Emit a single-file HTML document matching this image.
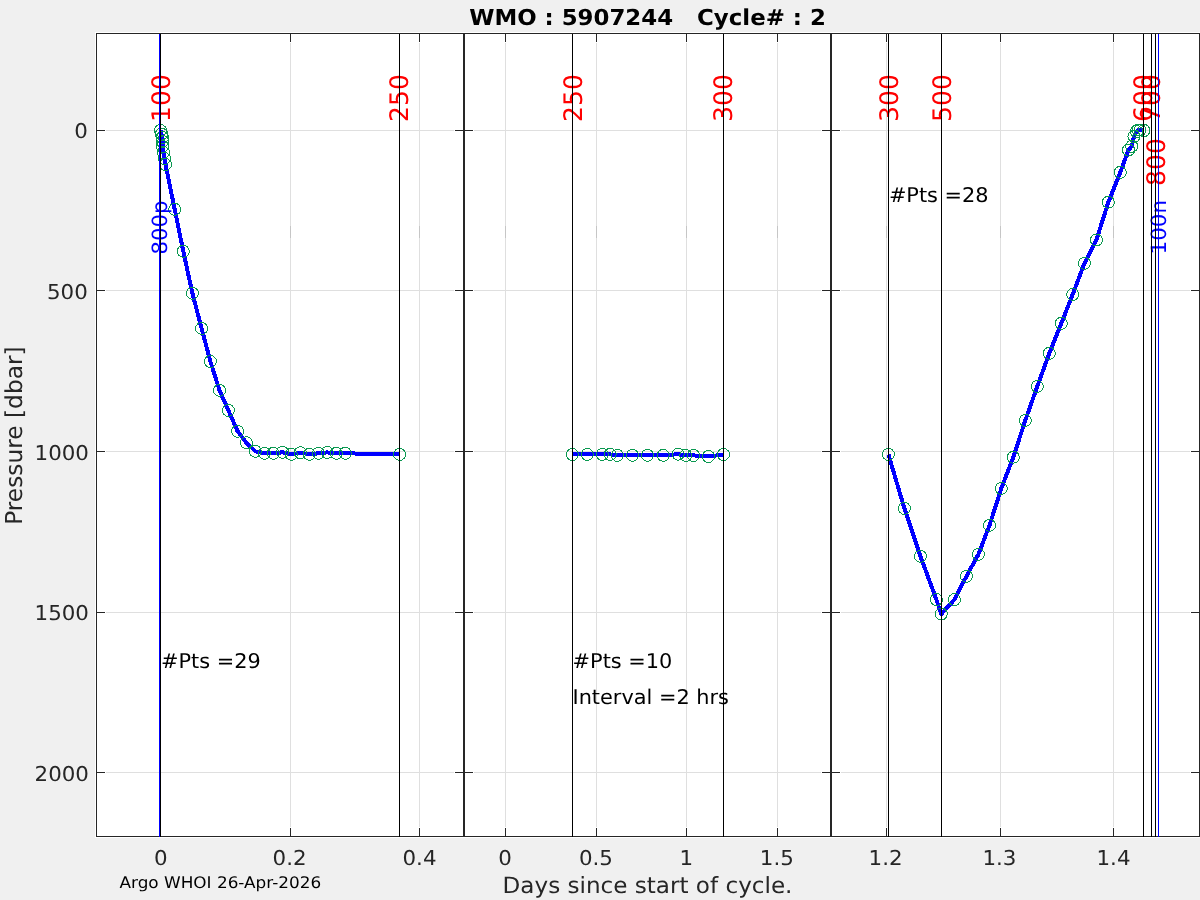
<!DOCTYPE html>
<html lang="en"><head><meta charset="utf-8"><title>WMO : 5907244 Cycle# : 2</title>
<style>html,body{margin:0;padding:0;background:#f0f0f0;overflow:hidden}svg{display:block}text{font-family:"DejaVu Sans", "Liberation Sans", sans-serif;text-rendering:geometricPrecision;white-space:pre}</style></head><body>
<svg width="1200" height="900" viewBox="0 0 1200 900" shape-rendering="crispEdges">
<rect x="0" y="0" width="1200" height="900" fill="#f0f0f0"/>
<rect x="95" y="32" width="1105" height="806" fill="#fff"/>
<line x1="106" y1="130.5" x2="454" y2="130.5" stroke="#dfdfdf" stroke-width="1"/>
<line x1="106" y1="290.5" x2="454" y2="290.5" stroke="#dfdfdf" stroke-width="1"/>
<line x1="106" y1="451.5" x2="454" y2="451.5" stroke="#dfdfdf" stroke-width="1"/>
<line x1="106" y1="612.5" x2="454" y2="612.5" stroke="#dfdfdf" stroke-width="1"/>
<line x1="106" y1="772.5" x2="454" y2="772.5" stroke="#dfdfdf" stroke-width="1"/>
<line x1="160.5" y1="43" x2="160.5" y2="827" stroke="#dfdfdf" stroke-width="1"/>
<line x1="290.5" y1="43" x2="290.5" y2="827" stroke="#dfdfdf" stroke-width="1"/>
<line x1="419.5" y1="43" x2="419.5" y2="827" stroke="#dfdfdf" stroke-width="1"/>
<line x1="474" y1="130.5" x2="821" y2="130.5" stroke="#dfdfdf" stroke-width="1"/>
<line x1="474" y1="290.5" x2="821" y2="290.5" stroke="#dfdfdf" stroke-width="1"/>
<line x1="474" y1="451.5" x2="821" y2="451.5" stroke="#dfdfdf" stroke-width="1"/>
<line x1="474" y1="612.5" x2="821" y2="612.5" stroke="#dfdfdf" stroke-width="1"/>
<line x1="474" y1="772.5" x2="821" y2="772.5" stroke="#dfdfdf" stroke-width="1"/>
<line x1="505.5" y1="43" x2="505.5" y2="827" stroke="#dfdfdf" stroke-width="1"/>
<line x1="596.5" y1="43" x2="596.5" y2="827" stroke="#dfdfdf" stroke-width="1"/>
<line x1="686.5" y1="43" x2="686.5" y2="827" stroke="#dfdfdf" stroke-width="1"/>
<line x1="777.5" y1="43" x2="777.5" y2="827" stroke="#dfdfdf" stroke-width="1"/>
<line x1="841" y1="130.5" x2="1190" y2="130.5" stroke="#dfdfdf" stroke-width="1"/>
<line x1="841" y1="290.5" x2="1190" y2="290.5" stroke="#dfdfdf" stroke-width="1"/>
<line x1="841" y1="451.5" x2="1190" y2="451.5" stroke="#dfdfdf" stroke-width="1"/>
<line x1="841" y1="612.5" x2="1190" y2="612.5" stroke="#dfdfdf" stroke-width="1"/>
<line x1="841" y1="772.5" x2="1190" y2="772.5" stroke="#dfdfdf" stroke-width="1"/>
<line x1="886.5" y1="43" x2="886.5" y2="827" stroke="#dfdfdf" stroke-width="1"/>
<line x1="1000.5" y1="43" x2="1000.5" y2="827" stroke="#dfdfdf" stroke-width="1"/>
<line x1="1113.5" y1="43" x2="1113.5" y2="827" stroke="#dfdfdf" stroke-width="1"/>
<line x1="160.5" y1="226" x2="160.5" y2="238" stroke="#c6c6c6" stroke-width="1"/>
<line x1="290.5" y1="226" x2="290.5" y2="238" stroke="#c6c6c6" stroke-width="1"/>
<line x1="419.5" y1="226" x2="419.5" y2="238" stroke="#c6c6c6" stroke-width="1"/>
<line x1="505.5" y1="226" x2="505.5" y2="238" stroke="#c6c6c6" stroke-width="1"/>
<line x1="596.5" y1="226" x2="596.5" y2="238" stroke="#c6c6c6" stroke-width="1"/>
<line x1="686.5" y1="226" x2="686.5" y2="238" stroke="#c6c6c6" stroke-width="1"/>
<line x1="777.5" y1="226" x2="777.5" y2="238" stroke="#c6c6c6" stroke-width="1"/>
<line x1="886.5" y1="226" x2="886.5" y2="238" stroke="#c6c6c6" stroke-width="1"/>
<line x1="1000.5" y1="226" x2="1000.5" y2="238" stroke="#c6c6c6" stroke-width="1"/>
<line x1="1113.5" y1="226" x2="1113.5" y2="238" stroke="#c6c6c6" stroke-width="1"/>
<line x1="96.5" y1="130.5" x2="105" y2="130.5" stroke="#262626" stroke-width="1"/>
<line x1="455" y1="130.5" x2="463.5" y2="130.5" stroke="#262626" stroke-width="1"/>
<line x1="96.5" y1="290.5" x2="105" y2="290.5" stroke="#262626" stroke-width="1"/>
<line x1="455" y1="290.5" x2="463.5" y2="290.5" stroke="#262626" stroke-width="1"/>
<line x1="96.5" y1="451.5" x2="105" y2="451.5" stroke="#262626" stroke-width="1"/>
<line x1="455" y1="451.5" x2="463.5" y2="451.5" stroke="#262626" stroke-width="1"/>
<line x1="96.5" y1="612.5" x2="105" y2="612.5" stroke="#262626" stroke-width="1"/>
<line x1="455" y1="612.5" x2="463.5" y2="612.5" stroke="#262626" stroke-width="1"/>
<line x1="96.5" y1="772.5" x2="105" y2="772.5" stroke="#262626" stroke-width="1"/>
<line x1="455" y1="772.5" x2="463.5" y2="772.5" stroke="#262626" stroke-width="1"/>
<line x1="160.5" y1="33.5" x2="160.5" y2="42" stroke="#262626" stroke-width="1"/>
<line x1="160.5" y1="828" x2="160.5" y2="836.5" stroke="#262626" stroke-width="1"/>
<line x1="290.5" y1="33.5" x2="290.5" y2="42" stroke="#262626" stroke-width="1"/>
<line x1="290.5" y1="828" x2="290.5" y2="836.5" stroke="#262626" stroke-width="1"/>
<line x1="419.5" y1="33.5" x2="419.5" y2="42" stroke="#262626" stroke-width="1"/>
<line x1="419.5" y1="828" x2="419.5" y2="836.5" stroke="#262626" stroke-width="1"/>
<line x1="464.5" y1="130.5" x2="473" y2="130.5" stroke="#262626" stroke-width="1"/>
<line x1="822" y1="130.5" x2="830.5" y2="130.5" stroke="#262626" stroke-width="1"/>
<line x1="464.5" y1="290.5" x2="473" y2="290.5" stroke="#262626" stroke-width="1"/>
<line x1="822" y1="290.5" x2="830.5" y2="290.5" stroke="#262626" stroke-width="1"/>
<line x1="464.5" y1="451.5" x2="473" y2="451.5" stroke="#262626" stroke-width="1"/>
<line x1="822" y1="451.5" x2="830.5" y2="451.5" stroke="#262626" stroke-width="1"/>
<line x1="464.5" y1="612.5" x2="473" y2="612.5" stroke="#262626" stroke-width="1"/>
<line x1="822" y1="612.5" x2="830.5" y2="612.5" stroke="#262626" stroke-width="1"/>
<line x1="464.5" y1="772.5" x2="473" y2="772.5" stroke="#262626" stroke-width="1"/>
<line x1="822" y1="772.5" x2="830.5" y2="772.5" stroke="#262626" stroke-width="1"/>
<line x1="505.5" y1="33.5" x2="505.5" y2="42" stroke="#262626" stroke-width="1"/>
<line x1="505.5" y1="828" x2="505.5" y2="836.5" stroke="#262626" stroke-width="1"/>
<line x1="596.5" y1="33.5" x2="596.5" y2="42" stroke="#262626" stroke-width="1"/>
<line x1="596.5" y1="828" x2="596.5" y2="836.5" stroke="#262626" stroke-width="1"/>
<line x1="686.5" y1="33.5" x2="686.5" y2="42" stroke="#262626" stroke-width="1"/>
<line x1="686.5" y1="828" x2="686.5" y2="836.5" stroke="#262626" stroke-width="1"/>
<line x1="777.5" y1="33.5" x2="777.5" y2="42" stroke="#262626" stroke-width="1"/>
<line x1="777.5" y1="828" x2="777.5" y2="836.5" stroke="#262626" stroke-width="1"/>
<line x1="831.5" y1="130.5" x2="840" y2="130.5" stroke="#262626" stroke-width="1"/>
<line x1="1191" y1="130.5" x2="1199.5" y2="130.5" stroke="#262626" stroke-width="1"/>
<line x1="831.5" y1="290.5" x2="840" y2="290.5" stroke="#262626" stroke-width="1"/>
<line x1="1191" y1="290.5" x2="1199.5" y2="290.5" stroke="#262626" stroke-width="1"/>
<line x1="831.5" y1="451.5" x2="840" y2="451.5" stroke="#262626" stroke-width="1"/>
<line x1="1191" y1="451.5" x2="1199.5" y2="451.5" stroke="#262626" stroke-width="1"/>
<line x1="831.5" y1="612.5" x2="840" y2="612.5" stroke="#262626" stroke-width="1"/>
<line x1="1191" y1="612.5" x2="1199.5" y2="612.5" stroke="#262626" stroke-width="1"/>
<line x1="831.5" y1="772.5" x2="840" y2="772.5" stroke="#262626" stroke-width="1"/>
<line x1="1191" y1="772.5" x2="1199.5" y2="772.5" stroke="#262626" stroke-width="1"/>
<line x1="886.5" y1="33.5" x2="886.5" y2="42" stroke="#262626" stroke-width="1"/>
<line x1="886.5" y1="828" x2="886.5" y2="836.5" stroke="#262626" stroke-width="1"/>
<line x1="1000.5" y1="33.5" x2="1000.5" y2="42" stroke="#262626" stroke-width="1"/>
<line x1="1000.5" y1="828" x2="1000.5" y2="836.5" stroke="#262626" stroke-width="1"/>
<line x1="1113.5" y1="33.5" x2="1113.5" y2="42" stroke="#262626" stroke-width="1"/>
<line x1="1113.5" y1="828" x2="1113.5" y2="836.5" stroke="#262626" stroke-width="1"/>
<polyline fill="none" stroke="#0000ff" stroke-width="4" stroke-linejoin="round" shape-rendering="crispEdges" points="160.5,130.5 161.5,134 162.5,137.5 162.5,141.5 162.5,146.5 163.5,152.5 164.5,158.5 165.5,164.5 174.7,209.3 183.3,251.3 192.4,293.3 201.6,328.4 210.4,361.5 219.5,390.3 228.4,410.4 237.6,431.3 246.4,442.7 255.3,451.3 264.4,453.3 273.3,453.3 282.4,452.3 291.3,454.3 300.3,452.7 309.3,454.3 318.4,453.3 327.3,452.4 336.3,453.3 345.3,453.3 399.6,454.4"/>
<polyline fill="none" stroke="#0000ff" stroke-width="4" stroke-linejoin="round" shape-rendering="crispEdges" points="572.3,454.5 587.3,454.4 602.3,454.4 610.2,454.4 617.4,455.4 632.4,455.3 647.4,455.3 663.2,455.3 678.2,454.2 685.7,455.4 693.5,455.4 708.5,456.5 723.5,454.5 723.5,454.5"/>
<polyline fill="none" stroke="#0000ff" stroke-width="4" stroke-linejoin="round" shape-rendering="crispEdges" points="888.4,454.4 904.4,508.4 920.4,556.3 936.4,599.6 941.3,614 954.4,599.6 966.4,576.3 978.4,554.4 989.5,525.3 1001.3,488.4 1013.3,457.2 1025.3,420.4 1037.3,386.4 1049.3,353.3 1061.3,323.3 1072.7,294.4 1084.4,263.3 1096.4,240 1108.3,202.2 1120.3,172.3 1128.5,150 1131.75,146.25 1134,136.5 1136.5,131.5 1139,129.8 1144,129.8"/>
<circle cx="160.5" cy="130.5" r="6" fill="none" stroke="#0a9850" stroke-width="1" shape-rendering="crispEdges"/>
<circle cx="161.5" cy="134" r="6" fill="none" stroke="#0a9850" stroke-width="1" shape-rendering="crispEdges"/>
<circle cx="162.5" cy="137.5" r="6" fill="none" stroke="#0a9850" stroke-width="1" shape-rendering="crispEdges"/>
<circle cx="162.5" cy="141.5" r="6" fill="none" stroke="#0a9850" stroke-width="1" shape-rendering="crispEdges"/>
<circle cx="162.5" cy="146.5" r="6" fill="none" stroke="#0a9850" stroke-width="1" shape-rendering="crispEdges"/>
<circle cx="163.5" cy="152.5" r="6" fill="none" stroke="#0a9850" stroke-width="1" shape-rendering="crispEdges"/>
<circle cx="164.5" cy="158.5" r="6" fill="none" stroke="#0a9850" stroke-width="1" shape-rendering="crispEdges"/>
<circle cx="165.5" cy="164.5" r="6" fill="none" stroke="#0a9850" stroke-width="1" shape-rendering="crispEdges"/>
<circle cx="174.7" cy="209.3" r="6" fill="none" stroke="#0a9850" stroke-width="1" shape-rendering="crispEdges"/>
<circle cx="183.3" cy="251.3" r="6" fill="none" stroke="#0a9850" stroke-width="1" shape-rendering="crispEdges"/>
<circle cx="192.4" cy="293.3" r="6" fill="none" stroke="#0a9850" stroke-width="1" shape-rendering="crispEdges"/>
<circle cx="201.6" cy="328.4" r="6" fill="none" stroke="#0a9850" stroke-width="1" shape-rendering="crispEdges"/>
<circle cx="210.4" cy="361.5" r="6" fill="none" stroke="#0a9850" stroke-width="1" shape-rendering="crispEdges"/>
<circle cx="219.5" cy="390.3" r="6" fill="none" stroke="#0a9850" stroke-width="1" shape-rendering="crispEdges"/>
<circle cx="228.4" cy="410.4" r="6" fill="none" stroke="#0a9850" stroke-width="1" shape-rendering="crispEdges"/>
<circle cx="237.6" cy="431.3" r="6" fill="none" stroke="#0a9850" stroke-width="1" shape-rendering="crispEdges"/>
<circle cx="246.4" cy="442.7" r="6" fill="none" stroke="#0a9850" stroke-width="1" shape-rendering="crispEdges"/>
<circle cx="255.3" cy="451.3" r="6" fill="none" stroke="#0a9850" stroke-width="1" shape-rendering="crispEdges"/>
<circle cx="264.4" cy="453.3" r="6" fill="none" stroke="#0a9850" stroke-width="1" shape-rendering="crispEdges"/>
<circle cx="273.3" cy="453.3" r="6" fill="none" stroke="#0a9850" stroke-width="1" shape-rendering="crispEdges"/>
<circle cx="282.4" cy="452.3" r="6" fill="none" stroke="#0a9850" stroke-width="1" shape-rendering="crispEdges"/>
<circle cx="291.3" cy="454.3" r="6" fill="none" stroke="#0a9850" stroke-width="1" shape-rendering="crispEdges"/>
<circle cx="300.3" cy="452.7" r="6" fill="none" stroke="#0a9850" stroke-width="1" shape-rendering="crispEdges"/>
<circle cx="309.3" cy="454.3" r="6" fill="none" stroke="#0a9850" stroke-width="1" shape-rendering="crispEdges"/>
<circle cx="318.4" cy="453.3" r="6" fill="none" stroke="#0a9850" stroke-width="1" shape-rendering="crispEdges"/>
<circle cx="327.3" cy="452.4" r="6" fill="none" stroke="#0a9850" stroke-width="1" shape-rendering="crispEdges"/>
<circle cx="336.3" cy="453.3" r="6" fill="none" stroke="#0a9850" stroke-width="1" shape-rendering="crispEdges"/>
<circle cx="345.3" cy="453.3" r="6" fill="none" stroke="#0a9850" stroke-width="1" shape-rendering="crispEdges"/>
<circle cx="399.6" cy="454.4" r="6" fill="none" stroke="#0a9850" stroke-width="1" shape-rendering="crispEdges"/>
<circle cx="572.3" cy="454.5" r="6" fill="none" stroke="#0a9850" stroke-width="1" shape-rendering="crispEdges"/>
<circle cx="587.3" cy="454.4" r="6" fill="none" stroke="#0a9850" stroke-width="1" shape-rendering="crispEdges"/>
<circle cx="602.3" cy="454.4" r="6" fill="none" stroke="#0a9850" stroke-width="1" shape-rendering="crispEdges"/>
<circle cx="610.2" cy="454.4" r="6" fill="none" stroke="#0a9850" stroke-width="1" shape-rendering="crispEdges"/>
<circle cx="617.4" cy="455.4" r="6" fill="none" stroke="#0a9850" stroke-width="1" shape-rendering="crispEdges"/>
<circle cx="632.4" cy="455.3" r="6" fill="none" stroke="#0a9850" stroke-width="1" shape-rendering="crispEdges"/>
<circle cx="647.4" cy="455.3" r="6" fill="none" stroke="#0a9850" stroke-width="1" shape-rendering="crispEdges"/>
<circle cx="663.2" cy="455.3" r="6" fill="none" stroke="#0a9850" stroke-width="1" shape-rendering="crispEdges"/>
<circle cx="678.2" cy="454.2" r="6" fill="none" stroke="#0a9850" stroke-width="1" shape-rendering="crispEdges"/>
<circle cx="685.7" cy="455.4" r="6" fill="none" stroke="#0a9850" stroke-width="1" shape-rendering="crispEdges"/>
<circle cx="693.5" cy="455.4" r="6" fill="none" stroke="#0a9850" stroke-width="1" shape-rendering="crispEdges"/>
<circle cx="708.5" cy="456.5" r="6" fill="none" stroke="#0a9850" stroke-width="1" shape-rendering="crispEdges"/>
<circle cx="723.5" cy="454.5" r="6" fill="none" stroke="#0a9850" stroke-width="1" shape-rendering="crispEdges"/>
<circle cx="723.5" cy="454.5" r="6" fill="none" stroke="#0a9850" stroke-width="1" shape-rendering="crispEdges"/>
<circle cx="888.4" cy="454.4" r="6" fill="none" stroke="#0a9850" stroke-width="1" shape-rendering="crispEdges"/>
<circle cx="904.4" cy="508.4" r="6" fill="none" stroke="#0a9850" stroke-width="1" shape-rendering="crispEdges"/>
<circle cx="920.4" cy="556.3" r="6" fill="none" stroke="#0a9850" stroke-width="1" shape-rendering="crispEdges"/>
<circle cx="936.4" cy="599.6" r="6" fill="none" stroke="#0a9850" stroke-width="1" shape-rendering="crispEdges"/>
<circle cx="941.3" cy="614" r="6" fill="none" stroke="#0a9850" stroke-width="1" shape-rendering="crispEdges"/>
<circle cx="954.4" cy="599.6" r="6" fill="none" stroke="#0a9850" stroke-width="1" shape-rendering="crispEdges"/>
<circle cx="966.4" cy="576.3" r="6" fill="none" stroke="#0a9850" stroke-width="1" shape-rendering="crispEdges"/>
<circle cx="978.4" cy="554.4" r="6" fill="none" stroke="#0a9850" stroke-width="1" shape-rendering="crispEdges"/>
<circle cx="989.5" cy="525.3" r="6" fill="none" stroke="#0a9850" stroke-width="1" shape-rendering="crispEdges"/>
<circle cx="1001.3" cy="488.4" r="6" fill="none" stroke="#0a9850" stroke-width="1" shape-rendering="crispEdges"/>
<circle cx="1013.3" cy="457.2" r="6" fill="none" stroke="#0a9850" stroke-width="1" shape-rendering="crispEdges"/>
<circle cx="1025.3" cy="420.4" r="6" fill="none" stroke="#0a9850" stroke-width="1" shape-rendering="crispEdges"/>
<circle cx="1037.3" cy="386.4" r="6" fill="none" stroke="#0a9850" stroke-width="1" shape-rendering="crispEdges"/>
<circle cx="1049.3" cy="353.3" r="6" fill="none" stroke="#0a9850" stroke-width="1" shape-rendering="crispEdges"/>
<circle cx="1061.3" cy="323.3" r="6" fill="none" stroke="#0a9850" stroke-width="1" shape-rendering="crispEdges"/>
<circle cx="1072.7" cy="294.4" r="6" fill="none" stroke="#0a9850" stroke-width="1" shape-rendering="crispEdges"/>
<circle cx="1084.4" cy="263.3" r="6" fill="none" stroke="#0a9850" stroke-width="1" shape-rendering="crispEdges"/>
<circle cx="1096.4" cy="240" r="6" fill="none" stroke="#0a9850" stroke-width="1" shape-rendering="crispEdges"/>
<circle cx="1108.3" cy="202.2" r="6" fill="none" stroke="#0a9850" stroke-width="1" shape-rendering="crispEdges"/>
<circle cx="1120.3" cy="172.3" r="6" fill="none" stroke="#0a9850" stroke-width="1" shape-rendering="crispEdges"/>
<circle cx="1128.5" cy="150" r="6" fill="none" stroke="#0a9850" stroke-width="1" shape-rendering="crispEdges"/>
<circle cx="1131.75" cy="146.25" r="6" fill="none" stroke="#0a9850" stroke-width="1" shape-rendering="crispEdges"/>
<circle cx="1134" cy="136.5" r="6" fill="none" stroke="#0a9850" stroke-width="1" shape-rendering="crispEdges"/>
<circle cx="1136.5" cy="131.5" r="6" fill="none" stroke="#0a9850" stroke-width="1" shape-rendering="crispEdges"/>
<circle cx="1138" cy="130" r="6" fill="none" stroke="#0a9850" stroke-width="1" shape-rendering="crispEdges"/>
<circle cx="1140" cy="130" r="6" fill="none" stroke="#0a9850" stroke-width="1" shape-rendering="crispEdges"/>
<circle cx="1144" cy="130.5" r="6" fill="none" stroke="#0a9850" stroke-width="1" shape-rendering="crispEdges"/>
<rect x="96.5" y="33.5" width="367" height="803" fill="none" stroke="#262626" stroke-width="1"/>
<rect x="464.5" y="33.5" width="366" height="803" fill="none" stroke="#262626" stroke-width="1"/>
<rect x="831.5" y="33.5" width="368" height="803" fill="none" stroke="#262626" stroke-width="1"/>
<text transform="translate(170,121.9) rotate(-90) scale(0.981,1)" font-size="25.5" fill="#ff0000">100</text>
<text transform="translate(408,121.9) rotate(-90) scale(0.981,1)" font-size="25.5" fill="#ff0000">250</text>
<text transform="translate(582,121.9) rotate(-90) scale(0.981,1)" font-size="25.5" fill="#ff0000">250</text>
<text transform="translate(732,121.9) rotate(-90) scale(0.981,1)" font-size="25.5" fill="#ff0000">300</text>
<text transform="translate(898,121.9) rotate(-90) scale(0.981,1)" font-size="25.5" fill="#ff0000">300</text>
<text transform="translate(951,121.9) rotate(-90) scale(0.981,1)" font-size="25.5" fill="#ff0000">500</text>
<text transform="translate(1152,121.9) rotate(-90) scale(0.981,1)" font-size="25.5" fill="#ff0000">600</text>
<text transform="translate(1160,121.9) rotate(-90) scale(0.981,1)" font-size="25.5" fill="#ff0000">700</text>
<text transform="translate(1165,185.9) rotate(-90) scale(0.981,1)" font-size="25.5" fill="#ff0000">800</text>
<text transform="translate(167,254.5) rotate(-90) scale(1.008,1)" font-size="21" fill="#0000ff">800p</text>
<text transform="translate(1166,254.4) rotate(-90) scale(1.02,1)" font-size="21" fill="#0000ff">100n</text>
<text transform="translate(161,668) scale(1.028,1)" font-size="20.3" fill="#000" text-anchor="start" font-weight="normal" xml:space="preserve">#Pts =29</text>
<text transform="translate(572.6,668) scale(1.028,1)" font-size="20.3" fill="#000" text-anchor="start" font-weight="normal" xml:space="preserve">#Pts =10</text>
<text transform="translate(572.5,704) scale(1.028,1)" font-size="20.3" fill="#000" text-anchor="start" font-weight="normal" xml:space="preserve">Interval =2 hrs</text>
<text transform="translate(888.9,202.2) scale(1.028,1)" font-size="20.3" fill="#000" text-anchor="start" font-weight="normal" xml:space="preserve">#Pts =28</text>
<text transform="translate(87.75,137.6) scale(1.043,1)" font-size="20.5" fill="#262626" text-anchor="end" font-weight="normal" xml:space="preserve">0</text>
<text transform="translate(87.75,298.8) scale(1.043,1)" font-size="20.5" fill="#262626" text-anchor="end" font-weight="normal" xml:space="preserve">500</text>
<text transform="translate(88.95,459.8) scale(1.043,1)" font-size="20.5" fill="#262626" text-anchor="end" font-weight="normal" xml:space="preserve">1000</text>
<text transform="translate(88.95,619.6) scale(1.043,1)" font-size="20.5" fill="#262626" text-anchor="end" font-weight="normal" xml:space="preserve">1500</text>
<text transform="translate(88.95,780.8) scale(1.043,1)" font-size="20.5" fill="#262626" text-anchor="end" font-weight="normal" xml:space="preserve">2000</text>
<text transform="translate(160.7,865) scale(1.043,1)" font-size="20.5" fill="#262626" text-anchor="middle" font-weight="normal" xml:space="preserve">0</text>
<text transform="translate(289.6,865) scale(1.043,1)" font-size="20.5" fill="#262626" text-anchor="middle" font-weight="normal" xml:space="preserve">0.2</text>
<text transform="translate(419.5,865) scale(1.043,1)" font-size="20.5" fill="#262626" text-anchor="middle" font-weight="normal" xml:space="preserve">0.4</text>
<text transform="translate(505,865) scale(1.043,1)" font-size="20.5" fill="#262626" text-anchor="middle" font-weight="normal" xml:space="preserve">0</text>
<text transform="translate(595.9,865) scale(1.043,1)" font-size="20.5" fill="#262626" text-anchor="middle" font-weight="normal" xml:space="preserve">0.5</text>
<text transform="translate(686.2,865) scale(1.043,1)" font-size="20.5" fill="#262626" text-anchor="middle" font-weight="normal" xml:space="preserve">1</text>
<text transform="translate(776.8,865) scale(1.043,1)" font-size="20.5" fill="#262626" text-anchor="middle" font-weight="normal" xml:space="preserve">1.5</text>
<text transform="translate(885.6,865) scale(1.043,1)" font-size="20.5" fill="#262626" text-anchor="middle" font-weight="normal" xml:space="preserve">1.2</text>
<text transform="translate(999.4,865) scale(1.043,1)" font-size="20.5" fill="#262626" text-anchor="middle" font-weight="normal" xml:space="preserve">1.3</text>
<text transform="translate(1113.5,865) scale(1.043,1)" font-size="20.5" fill="#262626" text-anchor="middle" font-weight="normal" xml:space="preserve">1.4</text>
<text transform="translate(647.5,893) scale(1.035,1)" font-size="22.3" fill="#262626" text-anchor="middle" font-weight="normal" xml:space="preserve">Days since start of cycle.</text>
<text transform="translate(21.6,435.6) rotate(-90) scale(1,1)" font-size="23.3" fill="#262626" text-anchor="middle" font-weight="normal" xml:space="preserve">Pressure [dbar]</text>
<text transform="translate(647.5,24.8) scale(1.04,1)" font-size="22" fill="#000" text-anchor="middle" font-weight="bold" xml:space="preserve">WMO : 5907244   Cycle# : 2</text>
<text transform="translate(119.5,888) scale(1.053,1)" font-size="16" fill="#000" text-anchor="start" font-weight="normal" xml:space="preserve">Argo WHOI 26-Apr-2026</text>
<line x1="159.5" y1="33.5" x2="159.5" y2="836.5" stroke="#0000ff" stroke-width="1"/>
<line x1="160.5" y1="33.5" x2="160.5" y2="836.5" stroke="#000" stroke-width="1"/>
<line x1="399.5" y1="33.5" x2="399.5" y2="836.5" stroke="#000" stroke-width="1"/>
<line x1="572.5" y1="33.5" x2="572.5" y2="836.5" stroke="#000" stroke-width="1"/>
<line x1="723.5" y1="33.5" x2="723.5" y2="836.5" stroke="#000" stroke-width="1"/>
<line x1="888.5" y1="33.5" x2="888.5" y2="836.5" stroke="#000" stroke-width="1"/>
<line x1="941.5" y1="33.5" x2="941.5" y2="836.5" stroke="#000" stroke-width="1"/>
<line x1="1143.5" y1="33.5" x2="1143.5" y2="836.5" stroke="#000" stroke-width="1"/>
<line x1="1151.5" y1="33.5" x2="1151.5" y2="836.5" stroke="#000" stroke-width="1"/>
<line x1="1155.5" y1="33.5" x2="1155.5" y2="836.5" stroke="#000" stroke-width="1"/>
<line x1="1158.5" y1="33.5" x2="1158.5" y2="836.5" stroke="#0000ff" stroke-width="1"/>
</svg></body></html>
